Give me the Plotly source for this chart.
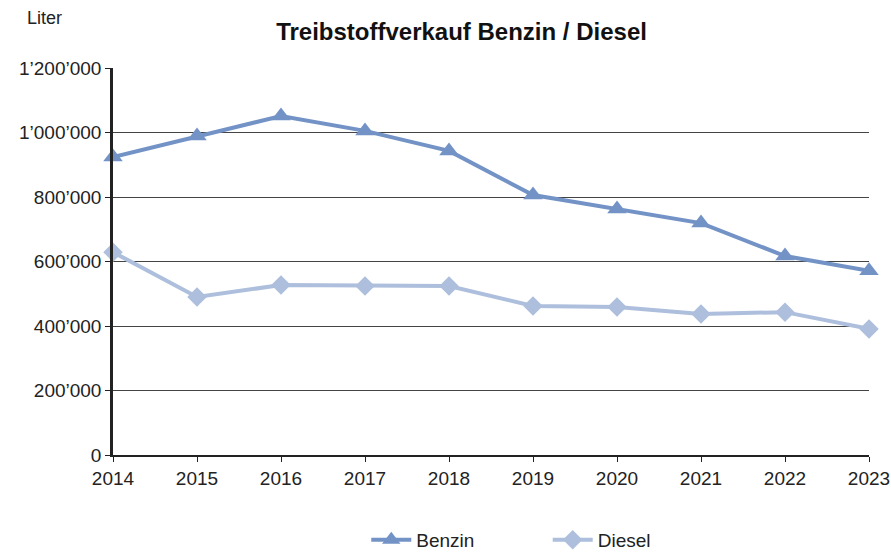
import plotly.graph_objects as go

years = [2014, 2015, 2016, 2017, 2018, 2019, 2020, 2021, 2022, 2023]
benzin = [924000, 989000, 1051000, 1005000, 943000, 806000, 763000, 719000, 617000, 571000]
diesel = [629000, 490000, 527000, 524000, 524000, 462000, 459000, 437000, 443000, 391000]
y_ticks = [0, 200000, 400000, 600000, 800000, 1000000, 1200000]

FONT = "Liberation Sans, Arial, sans-serif"
BENZIN_COLOR = "#7393c6"
DIESEL_COLOR = "#adbfdc"

fig = go.Figure()
fig.add_trace(go.Scatter(
    x=years, y=benzin, name="Benzin", mode="lines+markers",
    line=dict(color=BENZIN_COLOR, width=4),
    marker=dict(symbol="triangle-up", size=17, color=BENZIN_COLOR),
    cliponaxis=False, legend="legend",
))
fig.add_trace(go.Scatter(
    x=years, y=diesel, name="Diesel", mode="lines+markers",
    line=dict(color=DIESEL_COLOR, width=4),
    marker=dict(symbol="diamond", size=15, color=DIESEL_COLOR),
    cliponaxis=False, legend="legend2",
))

legend_style = dict(
    orientation="h", xanchor="left",
    yref="container", y=0.022, yanchor="middle",
    font=dict(family=FONT, size=19, color="#222222"),
    itemwidth=40, bgcolor="rgba(0,0,0,0)",
)

fig.update_layout(
    width=891, height=552,
    margin=dict(l=113, r=22, t=68, b=97, autoexpand=False),
    paper_bgcolor="white", plot_bgcolor="white",
    separators=".’",
    font=dict(family=FONT, size=19, color="#222222"),
    title=dict(
        text="<b>Treibstoffverkauf Benzin / Diesel</b>",
        x=0.518, xanchor="center", y=0.942, yanchor="middle",
        font=dict(family=FONT, size=24, color="#111111"),
    ),
    showlegend=True,
    legend=dict(x=0.335, **legend_style),
    legend2=dict(x=0.575, **legend_style),
    annotations=[dict(
        text="Liter", xref="paper", yref="paper", x=-0.117, y=1.13,
        xanchor="left", yanchor="middle", showarrow=False,
        font=dict(family=FONT, size=18, color="#222222"),
    )],
)

fig.update_xaxes(
    range=[2014, 2023], tickmode="array", tickvals=years,
    showgrid=False, zeroline=False,
    showline=True, linecolor="#222222", linewidth=1.5,
    ticks="outside", ticklen=5, tickcolor="#222222", tickwidth=1,
    tickfont=dict(size=19), automargin=False,
)
fig.update_yaxes(
    range=[0, 1200000], tickmode="array", tickvals=y_ticks, tickformat=",d",
    showgrid=True, gridcolor="#444444", gridwidth=1, zeroline=False,
    showline=True, linecolor="#222222", linewidth=2.5,
    ticks="outside", ticklen=5, tickcolor="#222222", tickwidth=1,
    tickfont=dict(size=19), automargin=False,
)

fig.write_html("out.html")
